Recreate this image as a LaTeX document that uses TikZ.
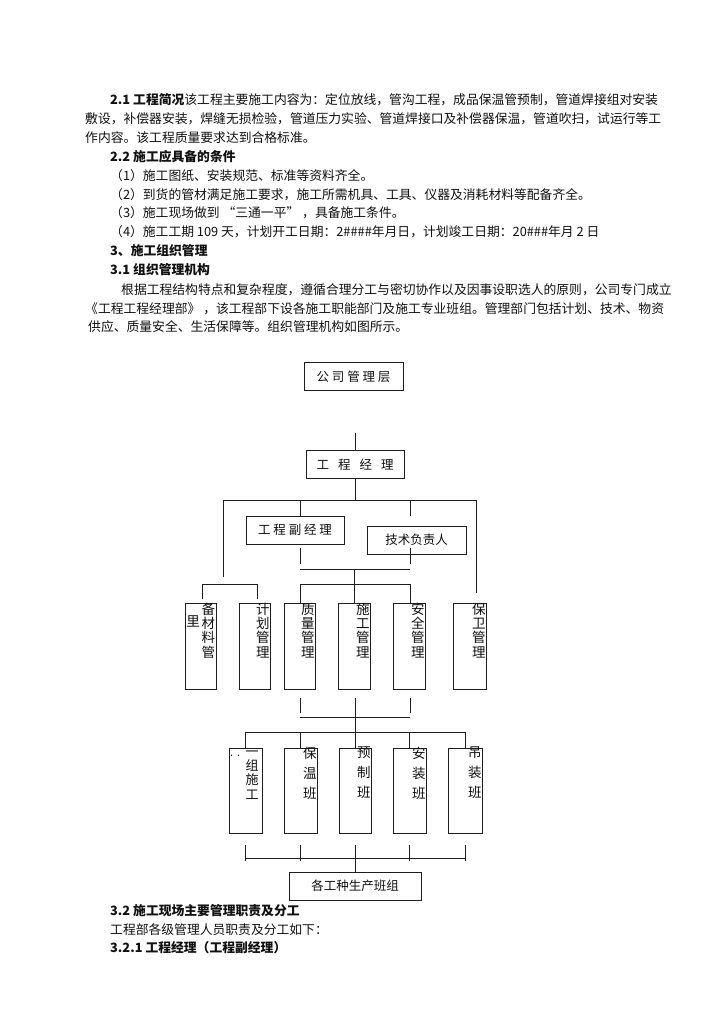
\documentclass[tikz,border=0pt]{standalone}
\usepackage{fontspec}
\setmainfont{Noto Sans CJK SC}
\usepackage{tikz}
\usetikzlibrary{positioning}
\definecolor{ink}{HTML}{111111}
\definecolor{rule}{HTML}{1E1E1E}
\definecolor{pagebg}{HTML}{FFFFFF}
\tikzset{
  every node/.append style={text=ink},
  body/.style={font=\fontsize{12.8}{15}\selectfont, anchor=west, inner sep=0pt},
  head/.style={body, font=\fontsize{12.8}{15}\selectfont\bfseries},
  box/.style={draw=rule, line width=0.8pt, minimum height=28pt, inner sep=0pt,
    font=\fontsize{12.5}{15}\selectfont},
  col/.style={draw=rule, line width=0.8pt, minimum width=31pt, minimum height=86pt, inner sep=0pt},
  colt/.style={font=\fontsize{13.5}{14.4}\selectfont, align=center, inner sep=0pt, anchor=north east},
  colw/.style={colt, font=\fontsize{13.5}{20}\selectfont},
  wire/.style={draw=rule, line width=0.8pt},
}

\begin{document}
\begin{tikzpicture}[x=1pt,y=-1pt]
  \fill[pagebg] (0,0) rectangle (724,1024);

  % text above the chart
  \node[body] (p1) at (110,100) {{\bfseries 2.1 工程简况}该工程主要施工内容为：定位放线，管沟工程，成品保温管预制，管道焊接组对安装};
  \node[body] (p2) at (85,119) {敷设，补偿器安装，焊缝无损检验，管道压力实验、管道焊接口及补偿器保温，管道吹扫，试运行等工};
  \node[body] (p3) at (85,138) {作内容。该工程质量要求达到合格标准。};
  \node[head] (p4) at (110,157) {2.2 施工应具备的条件};
  \node[body] (p5) at (110,176) {（1）施工图纸、安装规范、标准等资料齐全。};
  \node[body] (p6) at (110,195) {（2）到货的管材满足施工要求，施工所需机具、工具、仪器及消耗材料等配备齐全。};
  \node[body] (p7) at (110,213) {（3）施工现场做到 “三通一平” ，具备施工条件。};
  \node[body] (p8) at (110,232) {（4）施工工期 109 天，计划开工日期：2\#\#\#\#年月日，计划竣工日期：20\#\#\#年月 2 日};
  \node[head] (p9) at (110,251) {3、施工组织管理};
  \node[head] (p10) at (110,270) {3.1 组织管理机构};
  \node[body] (p11) at (121,290) {根据工程结构特点和复杂程度，遵循合理分工与密切协作以及因事设职选人的原则，公司专门成立};
  \node[body] (p12) at (85,309) {《工程工程经理部》 ，该工程部下设各施工职能部门及施工专业班组。管理部门包括计划、技术、物资};
  \node[body] (p13) at (88,327) {供应、质量安全、生活保障等。组织管理机构如图所示。};

  % upper boxes
  \node[box, minimum width=99pt] (gs) at (353.5,376.5) {公 司 管 理 层};
  \node[box, minimum width=98pt] (jl) at (355,464.5) {工\hspace{9pt}程\hspace{9pt}经\hspace{9pt}理};
  \node[box, minimum width=98pt] (fjl) at (295,530) {工 程 副 经 理};
  \node[box, minimum width=99pt] (js) at (416.5,540) {\raisebox{-2pt}{技术负责人}\hspace{14pt}};

  % functional departments
  \node[col] (sb) at (200.5,646) {};
  \node[col] (jh) at (254.5,646) {};
  \node[col] (zl) at (299.5,646) {};
  \node[col, minimum width=32pt] (sg) at (354,646) {};
  \node[col, minimum width=32pt] (aq) at (409,646) {};
  \node[col, minimum width=33pt] (bw) at (469.5,646) {};
  \node[colt] (sbt) at ([xshift=-1pt]sb.north east) {备\\材\\料\\管};
  \node[colt, anchor=center] (sbl) at (193,621) {里};
  \node[colt] (jht) at ([xshift=-0.5pt]jh.north east) {计\\划\\管\\理};
  \node[colt] (zlt) at ([xshift=-0.5pt]zl.north east) {质\\量\\管\\理};
  \node[colt] (sgt) at ([xshift=-0.5pt]sg.north east) {施\\工\\管\\理};
  \node[colt] (aqt) at ([xshift=-0.5pt]aq.north east) {安\\全\\管\\理};
  \node[colt] (bwt) at ([xshift=-0.5pt]bw.north east) {保\\卫\\管\\理};

  % work teams
  \node[col, minimum width=33pt, minimum height=85pt] (yz) at (245.5,790.5) {};
  \node[col, minimum width=33pt, minimum height=85pt] (bwb) at (300.5,790.5) {};
  \node[col, minimum width=32pt, minimum height=85pt] (yzb) at (355,790.5) {};
  \node[col, minimum width=33pt, minimum height=85pt] (azb) at (409.5,790.5) {};
  \node[col, minimum width=34pt, minimum height=85pt] (dzb) at (465,790.5) {};
  \node[colt, font=\fontsize{13}{14.2}\selectfont] (yzt) at ([xshift=-3.5pt,yshift=-3pt]yz.north east) {一\\组\\施\\工};
  \node[colt, anchor=center, font=\fontsize{7}{8}\selectfont] (yzd) at (235,757) {··};
  \node[colw] (bwbt) at ([xshift=-0.5pt,yshift=1pt]bwb.north east) {保\\温\\班};
  \node[colw] (yzbt) at ([xshift=-0.5pt,yshift=1pt]yzb.north east) {预\\制\\班};
  \node[colw] (azbt) at ([xshift=-0.5pt,yshift=1pt]azb.north east) {安\\装\\班};
  \node[colw] (dzbt) at ([xshift=-0.5pt,yshift=1pt]dzb.north east) {吊\\装\\班};

  \node[box, minimum width=132pt] (ggz) at (355,886) {各工种生产班组\hspace{20pt}};

  % connectors, top part
  \coordinate (t0) at (355,433);
  \coordinate (h1l) at (223,500);
  \coordinate (h1r) at (476,500);
  \coordinate (v1) at (300,500);
  \coordinate (v2) at (410,500);
  \draw[wire] (t0) -- (jl.north);
  \draw[wire] (jl.south) -- (jl.south |- h1l);
  \draw[wire] (h1l) -- (h1r);
  \draw[wire] (h1l) -- ++(0,77);
  \draw[wire] (h1r) -- ++(0,93);
  \draw[wire] (v1) -- (v1 |- fjl.north);
  \draw[wire] (v2) -- ++(0,16);

  % left pair
  \coordinate (h2l) at (202,584);
  \coordinate (h2r) at (257,584);
  \draw[wire] (h2l) -- (h2r);
  \draw[wire] (h2l) -- ++(0,15);
  \draw[wire] (h2r) -- ++(0,15);

  % middle three
  \coordinate (u1) at (300,548);
  \coordinate (u2) at (410,548);
  \coordinate (h3l) at (300,569);
  \coordinate (h3r) at (410,569);
  \coordinate (h4l) at (300,584);
  \coordinate (h4r) at (410,584);
  \draw[wire] (u1) -- ++(0,16);
  \draw[wire] (u2) -- ++(0,16);
  \draw[wire] (h3l) -- (h3r);
  \draw[wire] (h3l -| sg.north) -- (sg.north);
  \draw[wire] (h4l) -- (h4r);
  \draw[wire] (h4l) -- (h4l |- zl.north);
  \draw[wire] (h4r) -- (h4r |- aq.north);

  % down to the teams
  \coordinate (d1) at (300,698);
  \coordinate (d2) at (355,698);
  \coordinate (d3) at (410,698);
  \coordinate (h5l) at (300,717);
  \coordinate (h5r) at (410,717);
  \coordinate (h6l) at (246,732);
  \coordinate (h6r) at (465,732);
  \draw[wire] (d1) -- ++(0,15);
  \draw[wire] (d3) -- ++(0,15);
  \draw[wire] (h5l) -- (h5r);
  \draw[wire] (d2) -- (d2 |- h6l);
  \draw[wire] (h6l) -- (h6r);
  \foreach \n in {yz,bwb,yzb,azb,dzb}
    \draw[wire] (\n.north |- h6l) -- (\n.north);

  % bottom bracket
  \coordinate (h7l) at (246,858);
  \coordinate (h7r) at (465,858);
  \draw[wire] (h7l) -- (h7r);
  \foreach \n in {yz,bwb,yzb,azb,dzb}
    \draw[wire] ([yshift=-12pt]\n.south) -- ([yshift=-28pt]\n.south);
  \draw[wire] ([yshift=-12pt]yzb.south) -- (ggz.north);

  % text below the chart
  \node[head] (q1) at (110,911) {3.2 施工现场主要管理职责及分工};
  \node[body] (q2) at (110,930) {工程部各级管理人员职责及分工如下：};
  \node[head] (q3) at (110,948) {3.2.1 工程经理（工程副经理）};
\end{tikzpicture}
\end{document}
